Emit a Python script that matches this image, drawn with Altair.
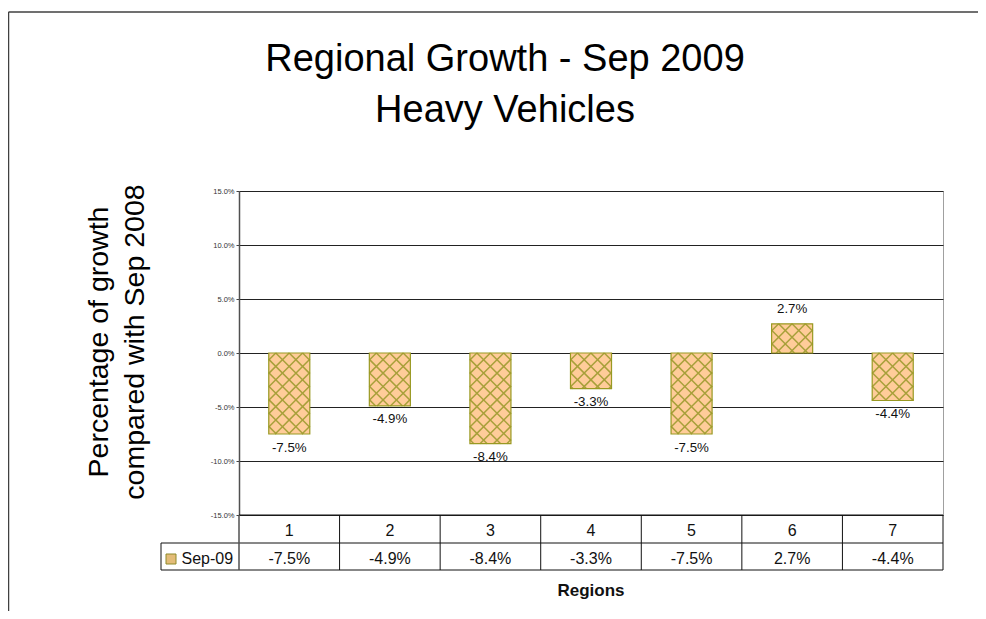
import math
import altair as alt
import pandas as pd

# ---------------- data ----------------
regions = [1, 2, 3, 4, 5, 6, 7]
growth = [-0.075, -0.049, -0.084, -0.033, -0.075, 0.027, -0.044]
series_name = "Sep-09"
y_ticks = [-0.15, -0.10, -0.05, 0.0, 0.05, 0.10, 0.15]
title_lines = ["Regional Growth - Sep 2009", "Heavy Vehicles"]
y_title_lines = ["Percentage of growth", "compared with Sep 2008"]
x_title = "Regions"

# ---------------- layout ----------------
W_PLOT = 704
H_PLOT = 324
STEP = W_PLOT / len(regions)
HALF = 0.204
PX_PER_UNIT = H_PLOT / 0.30
FONT = "Liberation Sans, Arial, sans-serif"

OLIVE = "#999922"
PEACH = "#FFCC99"


def fmt(v):
    return f"{v * 100:.1f}%"


df = pd.DataFrame({"region": regions, "value": growth,
                   "label": [fmt(v) for v in growth]})

# crosshatch segments derived from the bar values (decoration of each bar)
HATCH_P = 13.4
HATCH_PH = 7.0
bw_px = 2 * HALF * STEP
seg = {"x": [], "x2": [], "y": [], "y2": []}
for r, v in zip(regions, growth):
    Hpx = abs(v) * PX_PER_UNIT
    top = max(v, 0.0)
    left = r - HALF

    def pt(u, w):
        return left + u / STEP, top - w / PX_PER_UNIT

    def add(p0, p1):
        seg["x"].append(p0[0]); seg["y"].append(p0[1])
        seg["x2"].append(p1[0]); seg["y2"].append(p1[1])

    k = 0
    while True:
        c = HATCH_PH + k * HATCH_P
        if c >= bw_px + Hpx:
            break
        u0, u1 = max(0.0, c - Hpx), min(bw_px, c)
        if u1 > u0:
            add(pt(u0, c - u0), pt(u1, c - u1))
        k += 1
    k = math.floor((-Hpx - HATCH_PH) / HATCH_P)
    while True:
        c = HATCH_PH + k * HATCH_P
        if c >= bw_px:
            break
        u0, u1 = max(0.0, c), min(bw_px, c + Hpx)
        if u1 > u0:
            add(pt(u0, u0 - c), pt(u1, u1 - c))
        k += 1
hatch = pd.DataFrame(seg)

one = alt.Data(values=[{"k": 0}])

xs = alt.Scale(domain=[0.5, 7.5], nice=False, zero=False)
ys = alt.Scale(domain=[-0.15, 0.15], nice=False, zero=False)

y_axis = alt.Axis(
    values=y_ticks,
    labelExpr="replace(format(datum.value, '.1%'), '\u2212', '-')",
    labelFontSize=7.5, labelColor="#333333", labelFont=FONT,
    tickSize=3, tickColor="#404040", labelPadding=2,
    domainColor="#505050", domainWidth=1.5,
    grid=True, gridColor="#222222", gridWidth=1, title=None,
)

base = alt.Chart(df).transform_calculate(
    xa=f"datum.region - {HALF}", xb=f"datum.region + {HALF}"
)

bars = base.mark_bar(fill=PEACH, strokeWidth=0).encode(
    x=alt.X("xa:Q", scale=xs, axis=None),
    x2="xb:Q",
    y=alt.Y("value:Q", scale=ys, axis=y_axis),
    y2=alt.datum(0.0),
)

hatch_layer = alt.Chart(hatch).mark_rule(stroke="#a8a03a", strokeWidth=1.5).encode(
    x=alt.X("x:Q", scale=xs, axis=None),
    x2="x2:Q",
    y=alt.Y("y:Q", scale=ys, axis=y_axis),
    y2="y2:Q",
)

outline = base.mark_bar(fillOpacity=0, stroke=OLIVE, strokeWidth=1.2).encode(
    x=alt.X("xa:Q", scale=xs, axis=None),
    x2="xb:Q",
    y=alt.Y("value:Q", scale=ys, axis=y_axis),
    y2=alt.datum(0.0),
)

lab_neg = alt.Chart(df).transform_filter("datum.value < 0").mark_text(
    font=FONT, fontSize=13.3, color="#111111", baseline="alphabetic", dy=17.5
).encode(
    x=alt.X("region:Q", scale=xs, axis=None),
    y=alt.Y("value:Q", scale=ys, axis=y_axis),
    text="label:N",
)
lab_pos = alt.Chart(df).transform_filter("datum.value >= 0").mark_text(
    font=FONT, fontSize=13.3, color="#111111", baseline="alphabetic", dy=-10.5
).encode(
    x=alt.X("region:Q", scale=xs, axis=None),
    y=alt.Y("value:Q", scale=ys, axis=y_axis),
    text="label:N",
)

# ---------------- data table below the plot ----------------
T_TOP, T_MID, T_BOT, T_LEFT = 324, 352, 379, -78

col_lines = alt.Chart(df).transform_calculate(cx="datum.region + 0.5").mark_rule(
    color="#111111", strokeWidth=1
).encode(
    x=alt.X("cx:Q", scale=xs, axis=None),
    y=alt.value(T_TOP), y2=alt.value(T_BOT),
)


def hrule(y, x0, x1, color="#111111", w=1):
    return alt.Chart(one).mark_rule(color=color, strokeWidth=w).encode(
        x=alt.value(x0), x2=alt.value(x1), y=alt.value(y))


def vrule(x, y0, y1, color="#111111", w=1):
    return alt.Chart(one).mark_rule(color=color, strokeWidth=w).encode(
        x=alt.value(x), y=alt.value(y0), y2=alt.value(y1))


table_lines = [
    hrule(T_TOP, 0, W_PLOT),
    hrule(T_MID, T_LEFT, W_PLOT),
    hrule(T_BOT, T_LEFT, W_PLOT),
    vrule(T_LEFT, T_MID, T_BOT),
    vrule(0, T_TOP, T_BOT, color="#505050", w=1.5),
]

cat_text = alt.Chart(df).mark_text(font=FONT, fontSize=16, color="#111111",
                                   baseline="alphabetic").encode(
    x=alt.X("region:Q", scale=xs, axis=None),
    y=alt.value(345),
    text=alt.Text("region:Q", format="d"),
)
val_text = alt.Chart(df).mark_text(font=FONT, fontSize=16, color="#111111",
                                   baseline="alphabetic").encode(
    x=alt.X("region:Q", scale=xs, axis=None),
    y=alt.value(373),
    text="label:N",
)

swatch = alt.Chart(one).mark_rect(fill="#E3BC78", stroke="#8f8a2a", strokeWidth=1).encode(
    x=alt.value(-73), x2=alt.value(-63), y=alt.value(363), y2=alt.value(373))
series_text = alt.Chart(one).mark_text(font=FONT, fontSize=16, color="#111111",
                                       align="left", baseline="alphabetic",
                                       text=series_name).encode(
    x=alt.value(-57.5), y=alt.value(373))

regions_title = alt.Chart(one).mark_text(font=FONT, fontSize=17, fontWeight="bold",
                                         color="#111111", baseline="alphabetic",
                                         text=x_title).encode(
    x=alt.value(W_PLOT / 2), y=alt.value(405))

# ---------------- titles ----------------
t1 = alt.Chart(one).mark_text(font=FONT, fontSize=38, color="#000000",
                              baseline="alphabetic", text=title_lines[0]).encode(
    x=alt.value(266), y=alt.value(-120))
t2 = alt.Chart(one).mark_text(font=FONT, fontSize=38, color="#000000",
                              baseline="alphabetic", text=title_lines[1]).encode(
    x=alt.value(266), y=alt.value(-69))

yt1 = alt.Chart(one).mark_text(font=FONT, fontSize=28.5, color="#000000", angle=270,
                               baseline="alphabetic", text=y_title_lines[0]).encode(
    x=alt.value(-131), y=alt.value(151))
yt2 = alt.Chart(one).mark_text(font=FONT, fontSize=28.5, color="#000000", angle=270,
                               baseline="alphabetic", text=y_title_lines[1]).encode(
    x=alt.value(-95.5), y=alt.value(151))

# ---------------- outer frame ----------------
frame = [
    hrule(-179, -230.5, W_PLOT + 40, color="#404040", w=1.5),
    vrule(-230.5, -179, H_PLOT + 100, color="#404040", w=1.5),
]

chart = alt.layer(
    bars, hatch_layer, outline, lab_neg, lab_pos,
    col_lines, *table_lines, cat_text, val_text, swatch, series_text,
    regions_title, t1, t2, yt1, yt2, *frame,
).properties(
    width=W_PLOT, height=H_PLOT,
    padding={"left": 231, "top": 183, "right": 35, "bottom": 96},
    autosize=alt.AutoSizeParams(type="none"),
).configure_view(stroke="#a0a0a0", strokeWidth=1)

chart.save("out.html", embed_options={"renderer": "svg", "actions": False})
